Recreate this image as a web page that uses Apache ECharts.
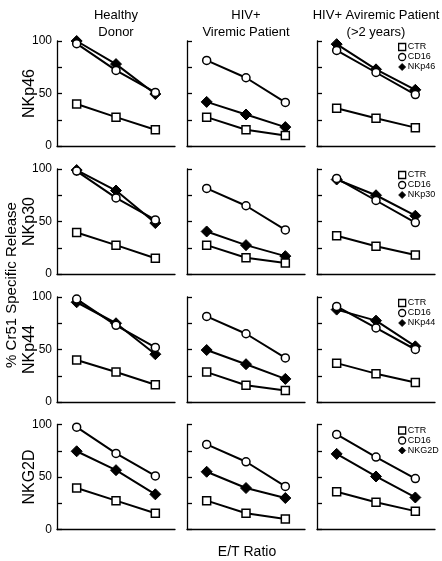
<!DOCTYPE html>
<html>
<head>
<meta charset="utf-8">
<script src="https://cdn.jsdelivr.net/npm/echarts@6/dist/echarts.min.js"></script>
<style>
html,body{margin:0;padding:0;background:#fff;}
#chart{width:442px;height:561px;}
</style>
</head>
<body>
<div id="chart"></div>
<script>
// ---- data ----
const etRatios = ['1', '2', '3'];
const groups = ['Healthy\nDonor', 'HIV+\nViremic Patient', 'HIV+ Aviremic Patient\n(>2 years)'];
const receptors = ['NKp46', 'NKp30', 'NKp44', 'NKG2D'];
const yTicks = [0, 50, 100];

// each array: [Healthy, Viremic, Aviremic], each with 3 E/T ratios
const ctrNKp46 = [[40, 27.5, 15.5], [27.5, 15.5, 10], [36, 26.5, 17.5]];
const cd16NKp46 = [[97.5, 72, 51], [81.5, 65, 41.5], [91, 70, 49]];
const recNKp46 = [[100, 78, 49.5], [42, 30, 18], [97, 73, 53.5]];

const ctrNKp30 = [[39.5, 27.5, 15], [27.5, 15.5, 10.5], [36.5, 26.5, 18]];
const cd16NKp30 = [[98, 72.5, 51.5], [81.5, 65, 42], [91, 70, 49]];
const recNKp30 = [[99, 79.5, 48.5], [40.5, 27.5, 17], [90, 75, 55.5]];

const ctrNKp44 = [[40, 28.5, 16.5], [28.5, 16, 11], [37, 27, 18.5]];
const cd16NKp44 = [[98, 73, 52], [81.5, 65, 42], [91, 70.5, 50]];
const recNKp44 = [[95, 75, 45.5], [49.5, 36, 22], [88, 77.5, 53]];

const ctrNKG2D = [[39.5, 27.5, 15.5], [27.5, 15.5, 10], [36, 26, 17.5]];
const cd16NKG2D = [[97.5, 72.5, 51], [81, 64.5, 41], [90.5, 69, 48.5]];
const recNKG2D = [[74.5, 56.5, 33.5], [55, 39.5, 30], [72, 50.5, 30.5]];

const ctrRows = [ctrNKp46, ctrNKp30, ctrNKp44, ctrNKG2D];
const cd16Rows = [cd16NKp46, cd16NKp30, cd16NKp44, cd16NKG2D];
const recRows = [recNKp46, recNKp30, recNKp44, recNKG2D];

// ---- layout ----
const FONT = 'Liberation Sans, Arial, Helvetica, sans-serif';
const colLeft = [57, 187, 317];
const rowTop = [41, 169, 297, 424.5];
const gW = 118, gH = 105;

const grids = [], xAxes = [], yAxes = [], series = [], legends = [], titles = [];
let gi = 0;
for (let r = 0; r < 4; r++) {
  for (let c = 0; c < 3; c++) {
    grids.push({left: colLeft[c], top: rowTop[r], width: gW, height: gH});
    xAxes.push({
      type: 'category', gridIndex: gi, data: etRatios, boundaryGap: true,
      axisLine: {lineStyle: {color: '#000', width: 1.3}},
      axisTick: {inside: true, length: 5, alignWithLabel: true, lineStyle: {color: '#000', width: 1.3}},
      axisLabel: {show: false}, splitLine: {show: false}
    });
    yAxes.push({
      type: 'value', gridIndex: gi, min: 0, max: 100, interval: 25,
      name: c === 0 ? receptors[r] : '', nameLocation: 'middle', nameGap: 19, nameRotate: 90,
      nameMoveOverlap: false,
      nameTextStyle: {fontFamily: FONT, fontSize: 16, color: '#000'},
      axisLine: {show: true, lineStyle: {color: '#000', width: 1.3}},
      axisTick: {show: true, inside: true, length: 5, lineStyle: {color: '#000', width: 1.3}},
      axisLabel: {show: c === 0, margin: 5, fontFamily: FONT, fontSize: 12, color: '#000',
        formatter: v => yTicks.indexOf(v) >= 0 ? String(v) : ''},
      splitLine: {show: false}
    });
    const recName = receptors[r];
    series.push({
      name: recName, type: 'line', xAxisIndex: gi, yAxisIndex: gi, data: recRows[r][c],
      symbol: 'diamond', symbolSize: [11, 11], z: 2,
      lineStyle: {color: '#000', width: 2}, itemStyle: {color: '#000', borderColor: '#000', borderWidth: 1},
      animation: false
    });
    series.push({
      name: 'CD16', type: 'line', xAxisIndex: gi, yAxisIndex: gi, data: cd16Rows[r][c],
      symbol: 'circle', symbolSize: 8, z: 3,
      lineStyle: {color: '#000', width: 2}, itemStyle: {color: '#fff', borderColor: '#000', borderWidth: 1.5},
      animation: false
    });
    series.push({
      name: 'CTR', type: 'line', xAxisIndex: gi, yAxisIndex: gi, data: ctrRows[r][c],
      symbol: 'rect', symbolSize: 8, z: 4,
      lineStyle: {color: '#000', width: 2}, itemStyle: {color: '#fff', borderColor: '#000', borderWidth: 1.5},
      animation: false
    });
    gi++;
  }
  legends.push({
    orient: 'vertical', left: 396, top: rowTop[r] - 1, itemWidth: 7, itemHeight: 7, itemGap: 0,
    selectedMode: false, padding: 2,
    textStyle: {fontFamily: FONT, fontSize: 9, lineHeight: 10, color: '#000', padding: [0, 0, 0, -3]},
    data: [
      {name: 'CTR', icon: 'rect', itemStyle: {color: '#fff', borderColor: '#000', borderWidth: 1.3}},
      {name: 'CD16', icon: 'circle', itemStyle: {color: '#fff', borderColor: '#000', borderWidth: 1.3}},
      {name: receptors[r], icon: 'diamond', itemStyle: {color: '#000', borderColor: '#000', borderWidth: 0.8}}
    ]
  });
}

for (let c = 0; c < 3; c++) {
  titles.push({
    text: groups[c], left: colLeft[c] + gW / 2, top: 7, textAlign: 'center', padding: 0,
    textStyle: {fontFamily: FONT, fontSize: 13, fontWeight: 'normal', color: '#000', lineHeight: 17}
  });
}
titles.push({
  text: 'E/T Ratio', left: 247, top: 545, textAlign: 'center', padding: 0,
  textStyle: {fontFamily: FONT, fontSize: 14, fontWeight: 'normal', color: '#000'}
});

const chart = echarts.init(document.getElementById('chart'), null, {renderer: 'canvas'});
chart.setOption({
  backgroundColor: '#fff',
  animation: false,
  title: titles,
  legend: legends,
  grid: grids,
  xAxis: xAxes,
  yAxis: yAxes,
  series: series,
  graphic: [{
    type: 'text', x: 12, y: 285, rotation: Math.PI / 2,
    style: {text: '% Cr51 Specific Release', fontFamily: FONT, fontSize: 15, fill: '#000',
      align: 'center', verticalAlign: 'middle'}
  }]
});
</script>
</body>
</html>
